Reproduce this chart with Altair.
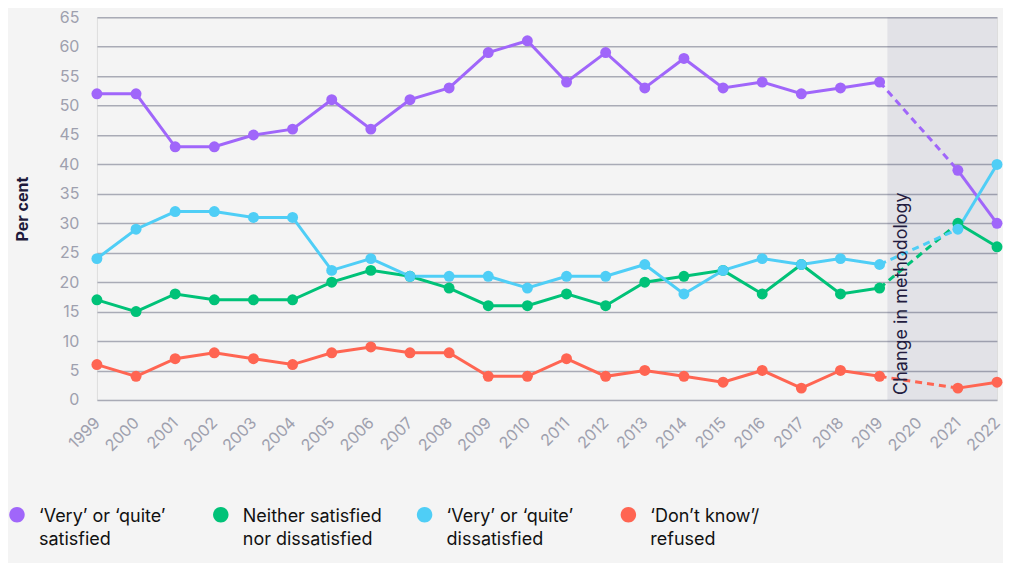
import altair as alt
import pandas as pd

years = [1999, 2000, 2001, 2002, 2003, 2004, 2005, 2006, 2007, 2008, 2009,
         2010, 2011, 2012, 2013, 2014, 2015, 2016, 2017, 2018, 2019, 2021, 2022]
satisfied = [52, 52, 43, 43, 45, 46, 51, 46, 51, 53, 59, 61, 54, 59, 53, 58, 53, 54, 52, 53, 54, 39, 30]
neither = [17, 15, 18, 17, 17, 17, 20, 22, 21, 19, 16, 16, 18, 16, 20, 21, 22, 18, 23, 18, 19, 30, 26]
dissatisfied = [24, 29, 32, 32, 31, 31, 22, 24, 21, 21, 21, 19, 21, 21, 23, 18, 22, 24, 23, 24, 23, 29, 40]
dont_know = [6, 4, 7, 8, 7, 6, 8, 9, 8, 8, 4, 4, 7, 4, 5, 4, 3, 5, 2, 5, 4, 2, 3]

series_names = ["‘Very’ or ‘quite’|satisfied",
                "Neither satisfied|nor dissatisfied",
                "‘Very’ or ‘quite’|dissatisfied",
                "‘Don’t know’/|refused"]
series_keys = ["satisfied", "neither", "dissatisfied", "dont_know"]
series_values = [satisfied, neither, dissatisfied, dont_know]
colors = ["#a066fa", "#00c278", "#4fcef6", "#ff6552"]

tick_years = list(range(1999, 2023))
y_ticks = list(range(0, 70, 5))
methodology_change = 2019
shade_start = 2019.2
shade_end = 2022
annotation = "Change in methodology"

rows = []
for name, key, vals in zip(series_names, series_keys, series_values):
    for yr, v in zip(years, vals):
        rows.append({"year": yr, "value": v, "series": name, "line": key,
                     "seg": "pre" if yr <= methodology_change else "post"})
df = pd.DataFrame(rows)
dashed_df = df[df["year"].isin([2019, 2021])]

W, H = 901, 383
FONT = "Inter"

x_scale = alt.Scale(domain=[1999, 2022], nice=False, zero=False)
y_scale = alt.Scale(domain=[0, 65], nice=False)
color_scale = alt.Scale(domain=series_names, range=colors)

x_axis = alt.Axis(values=tick_years, format="d", labelAngle=-45,
                  labelAlign="right", labelBaseline="middle",
                  labelPadding=20, labelFontSize=16,
                  labelColor="#9ea0ae", labelFont=FONT,
                  domain=False, ticks=False, grid=False, title=None,
                  labelOverlap=False)
y_axis = alt.Axis(values=y_ticks, grid=True, gridColor="#a9abb6",
                  gridWidth=1.5, domain=False, ticks=False,
                  labelColor="#9ea0ae", labelFontSize=16,
                  labelFont=FONT, labelPadding=18,
                  title="Per cent", titleFontSize=16,
                  titleFont=FONT, titleFontWeight="bold",
                  titleColor="#1e1a3b", titlePadding=28)


def xe(field):
    return alt.X(field, scale=x_scale, axis=x_axis)


def ye(field):
    return alt.Y(field, scale=y_scale, axis=y_axis)


shade_df = pd.DataFrame([{"x": shade_start, "x2": shade_end, "y": 65, "y2": 0}])
shade = alt.Chart(shade_df).mark_rect(color="#28285a", opacity=0.085).encode(
    x=xe("x:Q"), x2="x2:Q", y=ye("y:Q"), y2="y2:Q")

stroke_enc = alt.Stroke("line:N", scale=alt.Scale(domain=series_keys, range=colors),
                        legend=None)

solid = alt.Chart(df).mark_line(strokeWidth=3).encode(
    x=xe("year:Q"), y=ye("value:Q"), stroke=stroke_enc, detail="seg:N")

dashed = alt.Chart(dashed_df).mark_line(strokeWidth=3, strokeDash=[7, 5]).encode(
    x=xe("year:Q"), y=ye("value:Q"), stroke=stroke_enc)

symbol_path = "M -1 0.9 A 1 1 0 1 1 1 0.9 A 1 1 0 1 1 -1 0.9 Z"
points = alt.Chart(df).mark_point(filled=True, size=120, opacity=1).encode(
    x=xe("year:Q"), y=ye("value:Q"),
    color=alt.Color("series:N", scale=color_scale,
                    legend=alt.Legend(orient="none", legendX=-89, legendY=482,
                                      direction="horizontal", columns=4,
                                      columnPadding=33, gridAlign="all",
                                      labelExpr="split(datum.label, '|')",
                                      labelFontSize=18, labelFont=FONT,
                                      labelColor="#111111", labelLimit=300,
                                      labelBaseline="top", labelOffset=13,
                                      symbolType=symbol_path, symbolSize=240,
                                      symbolStrokeWidth=0, symbolOpacity=1,
                                      title=None, padding=0)))

text_df = pd.DataFrame([{"x": shade_start, "y": 0, "t": annotation}])
label = alt.Chart(text_df).mark_text(angle=270, align="left", baseline="top",
                                     dx=5, dy=6, fontSize=18, font=FONT,
                                     color="#231c3f").encode(
    x=xe("x:Q"), y=ye("y:Q"), text="t:N")

chart = alt.layer(shade, solid, dashed, points, label).properties(
    width=W, height=H,
    background="#f4f4f4",
    padding={"left": 0, "top": 1, "right": 0, "bottom": 14},
).configure_view(stroke=None).configure(
    style={"guide-label": {"lineHeight": 23}}
)

chart.save("out.html", embed_options={"renderer": "svg", "actions": False})
